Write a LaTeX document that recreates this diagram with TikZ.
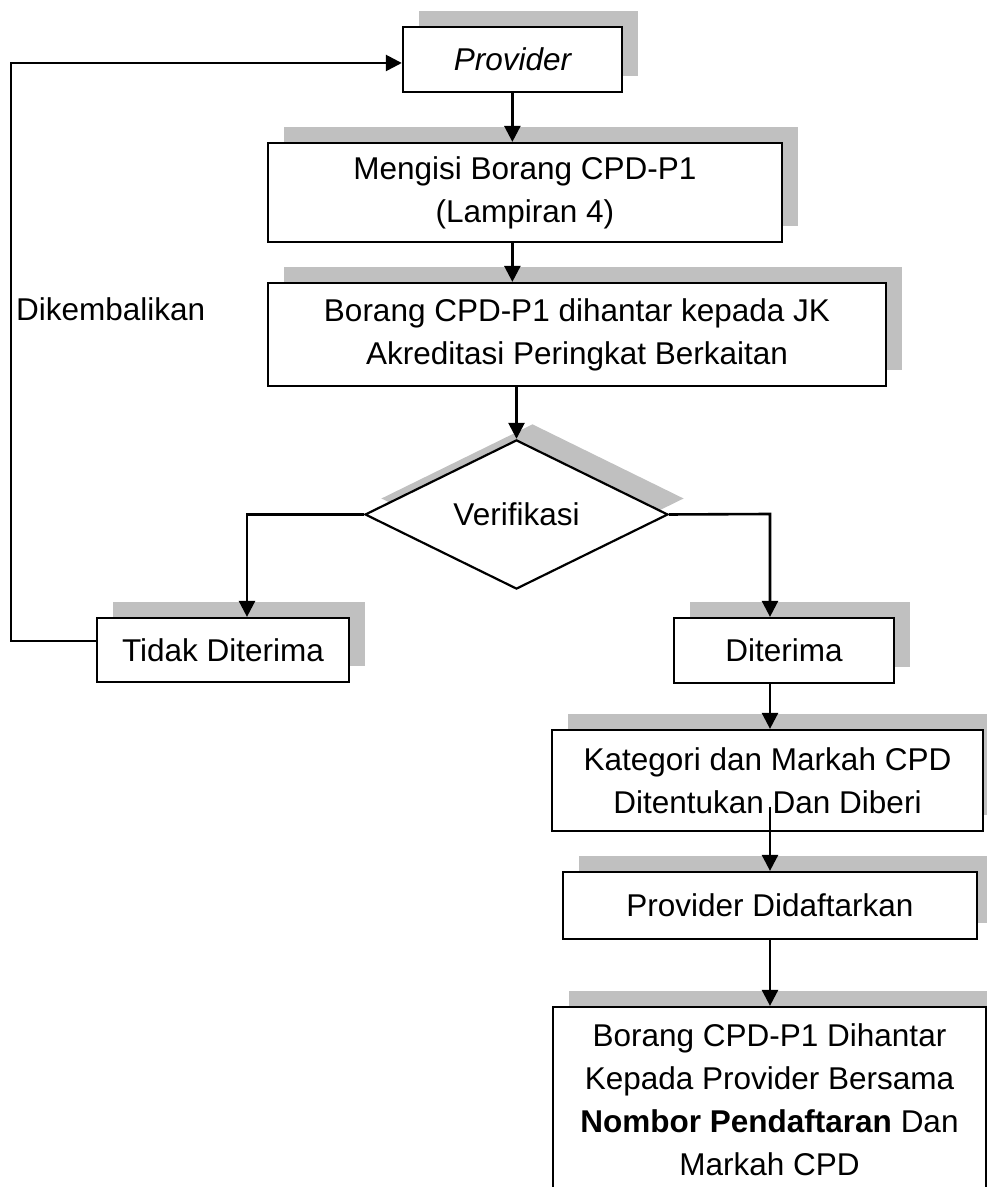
\documentclass[tikz,border=0pt]{standalone}
\usepackage{fontspec}
\setmainfont{Liberation Sans}
\usetikzlibrary{arrows.meta,shapes.geometric,shadows}
\definecolor{shgray}{HTML}{C0C0C0}
\begin{document}
\begin{tikzpicture}[x=1pt,y=1pt,
  every node/.style={font=\fontsize{31.5}{43}\selectfont},
  box/.style={draw=black, line width=2.2pt, fill=white, rectangle, inner sep=0pt, align=center,
    drop shadow={shadow xshift=16pt,shadow yshift=16pt,fill=shgray,opacity=1,draw=none}},
  dec/.style={box, diamond},
  conn/.style={draw=black, line width=2.6pt, -{Triangle[width=16pt,length=16pt]}},
  plainline/.style={draw=black, line width=2.6pt}]
\useasboundingbox (0,0) rectangle (987,1187);
\fill[white] (0,0) rectangle (987,1187);

\node[box, minimum width=219pt, minimum height=65pt] (prov) at (512.4,1127.5) {\itshape Provider};
\node[box, minimum width=514pt, minimum height=99pt] (meng) at (525,994.5) {Mengisi Borang CPD-P1\\(Lampiran 4)};
\node[box, minimum width=618pt, minimum height=103pt] (bor) at (577,852.5) {Borang CPD-P1 dihantar kepada JK\\Akreditasi Peringkat Berkaitan};
\node[dec, minimum width=303pt, minimum height=111pt] (ver) at (516.5,672.5) {Verifikasi};
\node[box, minimum width=252pt, minimum height=64pt] (tidak) at (223,537) {Tidak Diterima};
\node[box, minimum width=220pt, minimum height=65pt] (terima) at (784,536.5) {Diterima};
\node[box, minimum width=431pt, minimum height=101pt] (kat) at (767.5,406.5) {Kategori dan Markah CPD\\Ditentukan Dan Diberi};
\node[box, minimum width=414pt, minimum height=67pt] (daft) at (770,281.5) {Provider Didaftarkan};
\node[box, minimum width=433pt, minimum height=186pt] (akhir) at (769.5,87) {Borang CPD-P1 Dihantar\\Kepada Provider Bersama\\\textbf{Nombor Pendaftaran} Dan\\Markah CPD};
\node[anchor=west, inner sep=0pt] (lbl) at (16,878) {Dikembalikan};

\coordinate (lcorner) at (247,672.5);
\coordinate (rcorner) at (770,673);
\coordinate (kstart) at (770,380);
\coordinate (fbtop) at (11,1124);

\draw[conn] (prov.south) -- (prov.south |- meng.north);
\draw[conn] (meng.south -| prov.south) -- (prov.south |- bor.north);
\draw[conn] (ver.north |- bor.south) -- (ver.north);
\draw[conn] (ver.west) -- (lcorner) -- (lcorner |- tidak.north);
\draw[conn] (ver.east) -- (rcorner) -- (rcorner |- terima.north);
\draw[conn] (rcorner |- terima.south) -- (rcorner |- kat.north);
\draw[conn] (kstart) -- (kstart |- daft.north);
\draw[conn] (kstart |- daft.south) -- (kstart |- akhir.north);
\draw[conn] ([yshift=9pt]tidak.west) -| (fbtop) -- (fbtop -| prov.west);
\end{tikzpicture}
\end{document}
